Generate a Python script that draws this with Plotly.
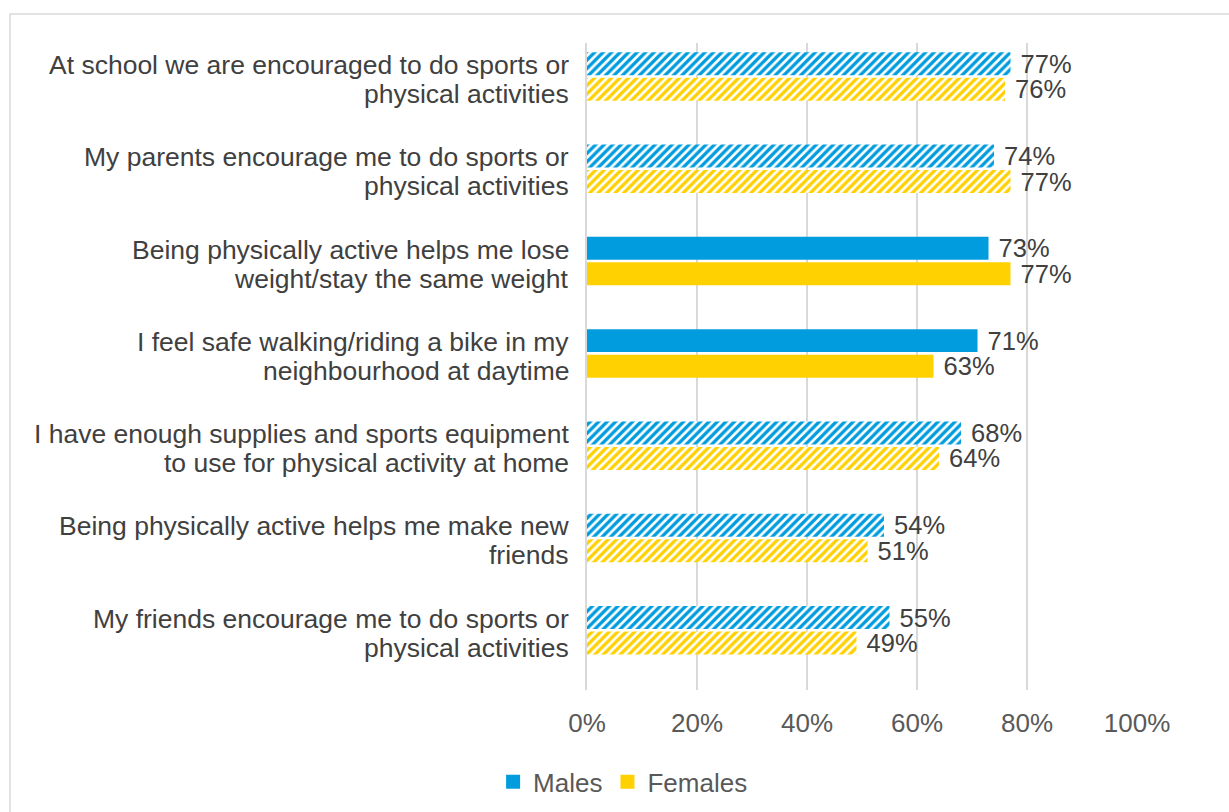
import plotly.graph_objects as go

category_lines = [
    ("At school we are encouraged to do sports or", "physical activities"),
    ("My parents encourage me to do sports or", "physical activities"),
    ("Being physically active helps me lose", "weight/stay the same weight"),
    ("I feel safe walking/riding a bike in my", "neighbourhood at daytime"),
    ("I have enough supplies and sports equipment", "to use for physical activity at home"),
    ("Being physically active helps me make new", "friends"),
    ("My friends encourage me to do sports or", "physical activities"),
]
categories = [a + " " + b for a, b in category_lines]
males = [77, 74, 73, 71, 68, 54, 55]
females = [76, 77, 77, 63, 64, 51, 49]
hatched = [True, True, False, False, True, True, True]
x_ticks = [0, 20, 40, 60, 80, 100]

BLUE = "#009CDE"
YELLOW = "#FFD100"
NB = "\u00a0"
FONT = "Liberation Sans, Arial"

shapes_pat = ["/" if h else "" for h in hatched]

fig = go.Figure()
for name, vals, col in [("Males", males, BLUE), ("Females", females, YELLOW)]:
    fig.add_trace(go.Bar(
        y=categories, x=vals, orientation="h", name=name,
        marker=dict(color=col, line=dict(width=0),
                    pattern=dict(shape=shapes_pat, fgcolor=col, bgcolor="white",
                                 size=6, solidity=0.55, fillmode="replace")),
        text=[NB + f"{v}%" for v in vals], textposition="outside",
        constraintext="none",
        textfont=dict(size=25.5, color="#404040", family=FONT),
        cliponaxis=False, showlegend=False,
    ))
for name, col in [("Males", BLUE), ("Females", YELLOW)]:
    fig.add_trace(go.Scatter(
        x=[None], y=[None], mode="markers", name=name,
        marker=dict(symbol="square", size=14, color=col),
    ))

annotations = []
for cat, (l1, l2) in zip(categories, category_lines):
    for txt, shift in [(l1, 11.5), (l2, -17.5)]:
        annotations.append(dict(
            xref="paper", yref="y", x=0, y=cat, text=txt, showarrow=False,
            xanchor="right", yanchor="middle", xshift=-16, yshift=shift,
            font=dict(size=26.5, color="#404040", family=FONT)))

n = len(categories)
fig.update_layout(
    width=1229, height=812,
    margin=dict(l=587, r=92, t=43, b=122),
    paper_bgcolor="white", plot_bgcolor="white",
    barmode="group", bargap=0.447, bargroupgap=0.1,
    font=dict(family=FONT, size=26, color="#404040"),
    xaxis=dict(range=[0, 100], tickvals=x_ticks, ticktext=[f"{v}%" for v in x_ticks],
               showgrid=True, gridcolor="#d9d9d9", gridwidth=1.5, zeroline=False,
               tickfont=dict(size=26, color="#595959"), ticklabelstandoff=15,
               showline=False),
    yaxis=dict(range=[n - 1 + 0.647, -0.363], showgrid=False, ticks="",
               showticklabels=False,
               showline=True, linecolor="#d9d9d9", linewidth=1.5),
    legend=dict(orientation="h", xref="container", yref="container",
                x=0.507, xanchor="center", y=0.037, yanchor="middle",
                font=dict(size=26, color="#595959"), itemwidth=30,
                traceorder="normal"),
    annotations=annotations,
    shapes=[dict(type="rect", xref="paper", yref="paper",
                 x0=(10 - 587) / 550, x1=(1300 - 587) / 550,
                 y0=(690 - 900) / 647, y1=(690 - 14) / 647,
                 line=dict(color="#d9d9d9", width=1.5), layer="below")],
)

fig.write_html("out.html")
